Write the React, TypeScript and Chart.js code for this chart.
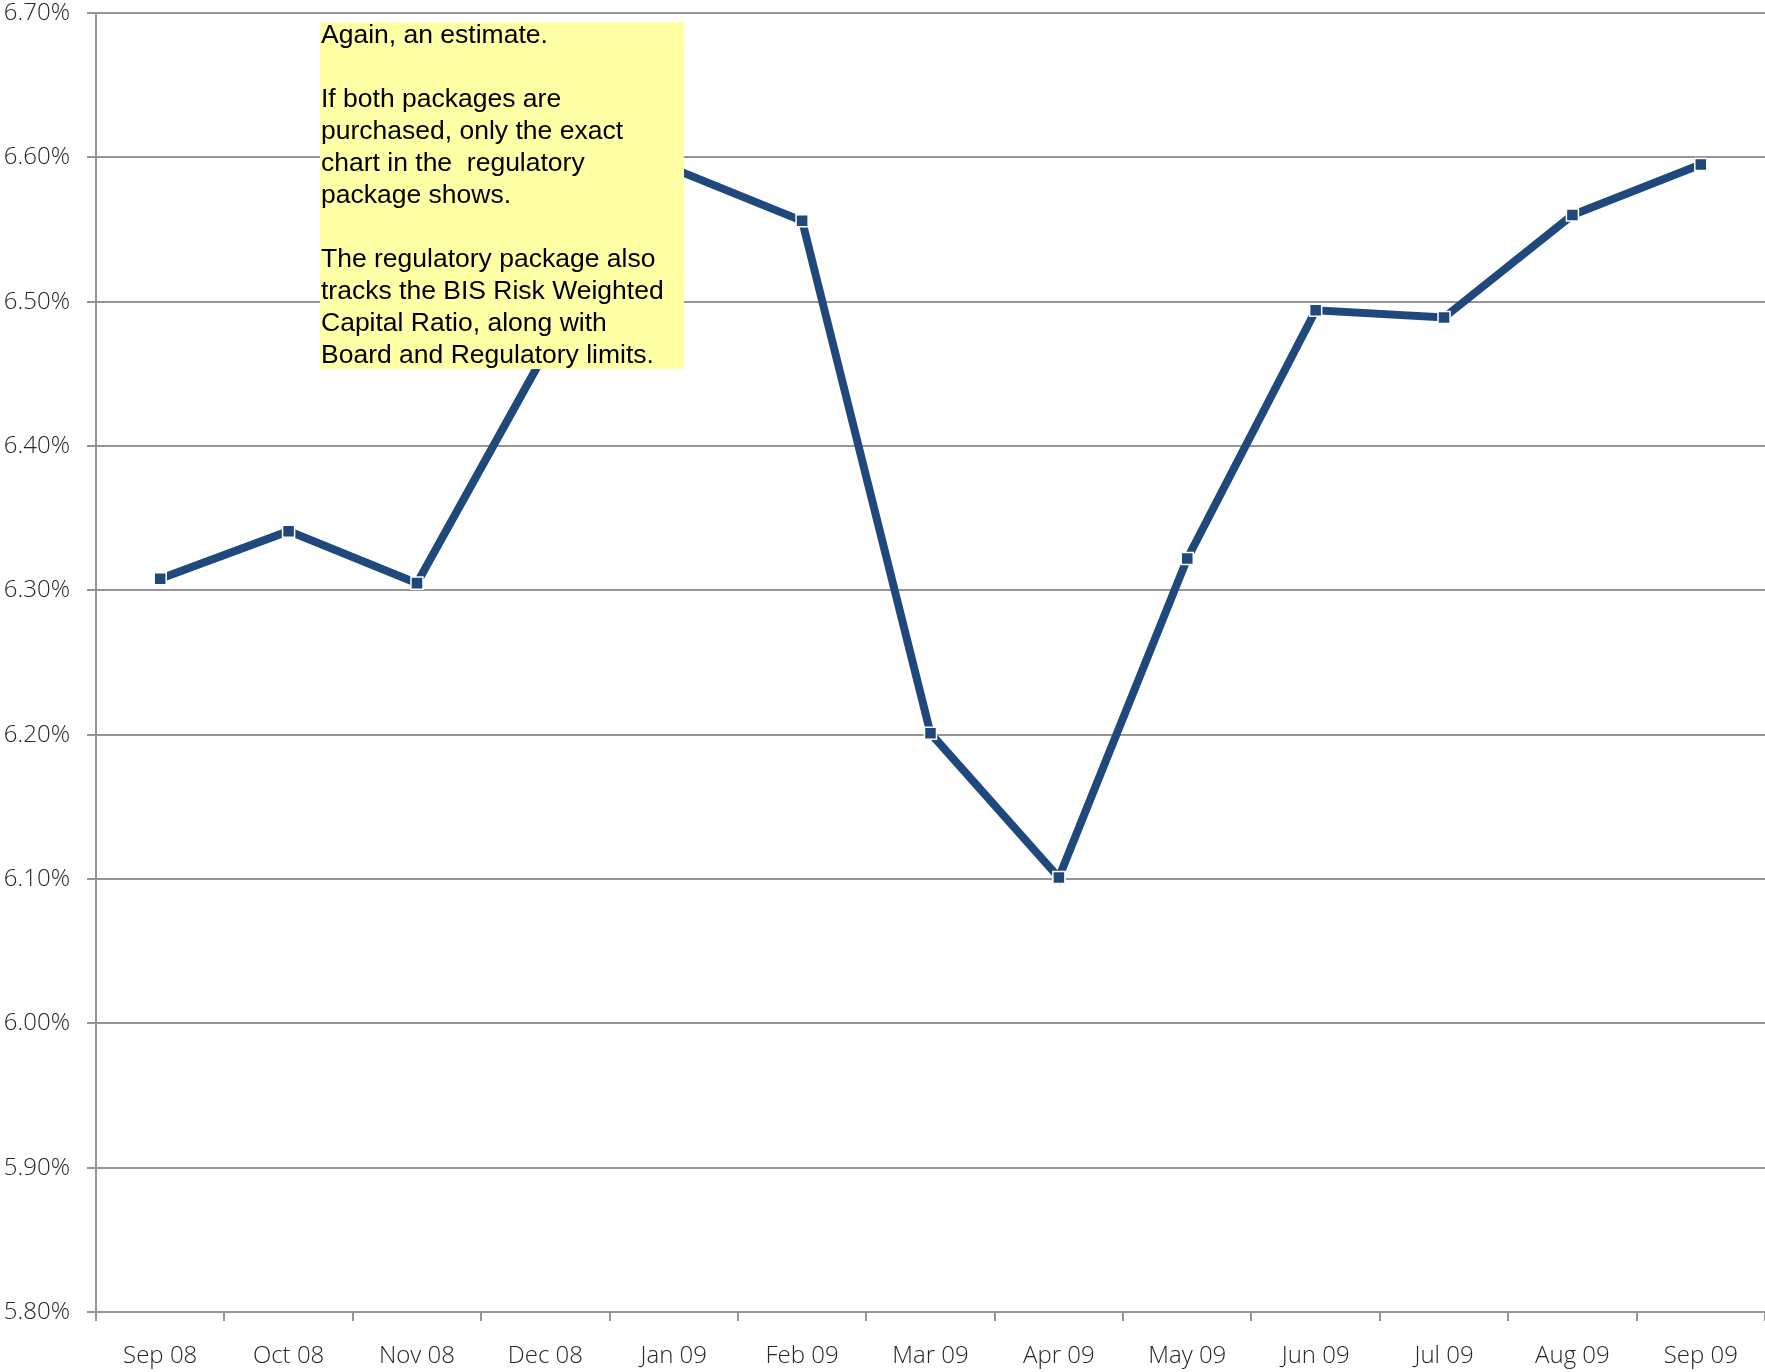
import React, { useEffect, useRef } from 'react';
import { Chart, registerables } from 'chart.js';

Chart.register(...registerables);

const months = [
  'Sep 08', 'Oct 08', 'Nov 08', 'Dec 08', 'Jan 09', 'Feb 09', 'Mar 09',
  'Apr 09', 'May 09', 'Jun 09', 'Jul 09', 'Aug 09', 'Sep 09',
];

const ratioValues = [
  6.308, 6.341, 6.305, 6.465, 6.592, 6.556, 6.201,
  6.101, 6.322, 6.494, 6.489, 6.560, 6.595,
];

const yMin = 5.8;
const yMax = 6.7;
const yStep = 0.1;

const noteLines = [
  'Again, an estimate.',
  '',
  'If both packages are',
  'purchased, only the exact',
  'chart in the  regulatory',
  'package shows.',
  '',
  'The regulatory package also',
  'tracks the BIS Risk Weighted',
  'Capital Ratio, along with',
  'Board and Regulatory limits.',
];

const LINE_COLOR = '#1F497D';
const GRID_COLOR = '#959595';
const LABEL_COLOR = '#262626';
const AXIS_FONT = { family: '"Open Sans", "Noto Sans", sans-serif', size: 24, weight: 300 as any };

const notePlugin = {
  id: 'noteBox',
  afterDatasetsDraw(chart: any) {
    const { ctx, chartArea } = chart;
    const x = chartArea.left + 224;
    const y = chartArea.top + 9;
    const w = 364;
    const h = 347;
    ctx.save();
    ctx.fillStyle = '#FFFFA6';
    ctx.fillRect(x, y, w, h);
    ctx.fillStyle = '#000000';
    ctx.font = '26.5px "Liberation Sans", Arial, sans-serif';
    ctx.textAlign = 'left';
    ctx.textBaseline = 'alphabetic';
    noteLines.forEach((line, i) => {
      if (line) ctx.fillText(line, x + 1, y + 21 + i * 32);
    });
    ctx.restore();
  },
};

export default function App() {
  const canvasRef = useRef<HTMLCanvasElement | null>(null);

  useEffect(() => {
    document.body.style.margin = '0';
    const canvas = canvasRef.current;
    if (!canvas) return;
    const chart = new Chart(canvas, {
      type: 'line',
      data: {
        labels: months,
        datasets: [
          {
            data: ratioValues,
            borderColor: LINE_COLOR,
            backgroundColor: LINE_COLOR,
            borderWidth: 8,
            pointStyle: 'rect',
            pointRadius: 8.5,
            pointBorderColor: '#ffffff',
            pointBorderWidth: 1.5,
            pointBackgroundColor: LINE_COLOR,
            tension: 0,
            fill: false,
          },
        ],
      },
      options: {
        responsive: false,
        animation: false,
        devicePixelRatio: 1,
        layout: { autoPadding: false, padding: { top: 13, right: 0, left: 0, bottom: 0 } },
        plugins: {
          legend: { display: false },
          tooltip: { enabled: false },
        },
        scales: {
          x: {
            type: 'category',
            offset: true,
            grid: {
              offset: true,
              drawOnChartArea: false,
              drawTicks: true,
              tickLength: 9,
              color: GRID_COLOR,
              lineWidth: 2,
            },
            border: { display: true, color: GRID_COLOR, width: 2 },
            ticks: {
              color: LABEL_COLOR,
              font: AXIS_FONT,
              padding: 21,
              maxRotation: 0,
              autoSkip: false,
            },
            afterFit: (scale: any) => {
              scale.height = 60;
              scale.paddingLeft = 0;
              scale.paddingRight = 0;
            },
          },
          y: {
            min: yMin,
            max: yMax,
            grid: {
              color: GRID_COLOR,
              lineWidth: 2,
              drawTicks: true,
              tickLength: 9,
            },
            border: { display: true, color: GRID_COLOR, width: 2 },
            ticks: {
              stepSize: yStep,
              color: LABEL_COLOR,
              font: AXIS_FONT,
              padding: 17,
              callback: (v: any) => Number(v).toFixed(2) + '%',
            },
            afterFit: (scale: any) => {
              scale.width = 96;
              scale.paddingTop = 0;
              scale.paddingBottom = 0;
            },
          },
        },
      },
      plugins: [notePlugin],
    });
    return () => chart.destroy();
  }, []);

  return (
    <div style={{ width: 1765, height: 1372 }}>
      <canvas ref={canvasRef} width={1765} height={1372} style={{ display: 'block' }} />
    </div>
  );
}
